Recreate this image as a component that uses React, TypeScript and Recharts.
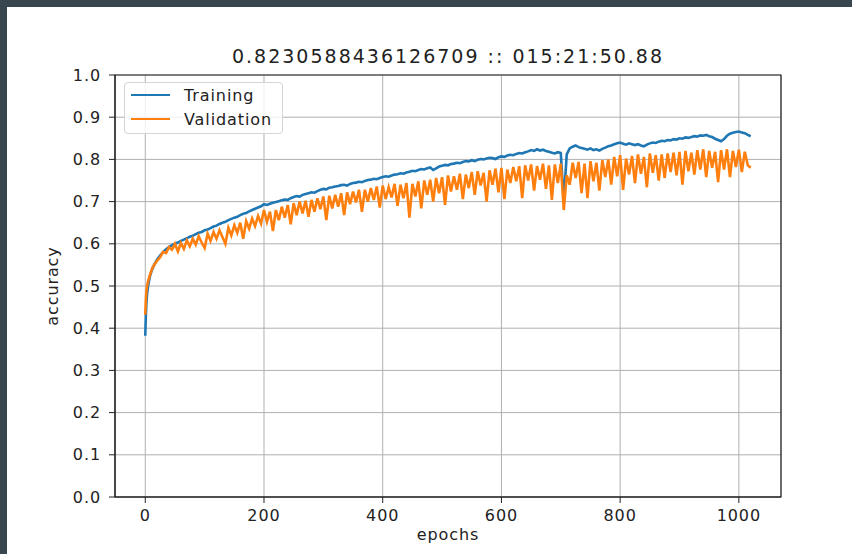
import { LineChart, Line, XAxis, YAxis, CartesianGrid, Legend, ReferenceArea } from 'recharts';

const title = '0.8230588436126709 :: 015:21:50.88';

const epochs = [
    0, 1, 2, 3, 5, 8, 12, 16, 20,
    25, 30, 35, 40, 45, 50, 55, 60, 65, 70,
    75, 80, 85, 90, 95, 100, 105, 110, 115, 120,
    125, 130, 135, 140, 145, 150, 155, 160, 165, 170,
    175, 180, 185, 190, 195, 200, 205, 210, 215, 220,
    225, 230, 235, 240, 245, 250, 255, 260, 265, 270,
    275, 280, 285, 290, 295, 300, 305, 310, 315, 320,
    325, 330, 335, 340, 345, 350, 355, 360, 365, 370,
    375, 380, 385, 390, 395, 400, 405, 410, 415, 420,
    425, 430, 435, 440, 445, 450, 455, 460, 465, 470,
    475, 480, 485, 490, 495, 500, 505, 510, 515, 520,
    525, 530, 535, 540, 545, 550, 555, 560, 565, 570,
    575, 580, 585, 590, 595, 600, 605, 610, 615, 620,
    625, 630, 635, 640, 645, 650, 655, 660, 665, 670,
    675, 680, 685, 690, 695, 700, 705, 710, 715, 720,
    725, 730, 735, 740, 745, 750, 755, 760, 765, 770,
    775, 780, 785, 790, 795, 800, 805, 810, 815, 820,
    825, 830, 835, 840, 845, 850, 855, 860, 865, 870,
    875, 880, 885, 890, 895, 900, 905, 910, 915, 920,
    925, 930, 935, 940, 945, 950, 955, 960, 965, 970,
    975, 980, 985, 990, 995, 1000, 1005, 1010, 1015, 1020,
];

const training = [
    0.382, 0.431, 0.462, 0.481, 0.503, 0.524, 0.541, 0.553, 0.563,
    0.572, 0.580, 0.587, 0.592, 0.597, 0.600, 0.603, 0.607, 0.610, 0.613,
    0.617, 0.619, 0.623, 0.626, 0.628, 0.632, 0.634, 0.637, 0.641, 0.643,
    0.647, 0.650, 0.652, 0.656, 0.659, 0.662, 0.664, 0.668, 0.671, 0.673,
    0.677, 0.680, 0.683, 0.686, 0.689, 0.694, 0.692, 0.695, 0.697, 0.699,
    0.701, 0.703, 0.705, 0.704, 0.708, 0.711, 0.713, 0.712, 0.716, 0.718,
    0.720, 0.722, 0.721, 0.725, 0.728, 0.730, 0.729, 0.733, 0.734, 0.736,
    0.737, 0.739, 0.740, 0.738, 0.742, 0.744, 0.745, 0.747, 0.746, 0.749,
    0.751, 0.752, 0.754, 0.753, 0.756, 0.758, 0.760, 0.759, 0.762, 0.764,
    0.765, 0.767, 0.766, 0.769, 0.771, 0.773, 0.772, 0.775, 0.777, 0.776,
    0.779, 0.781, 0.775, 0.779, 0.783, 0.785, 0.787, 0.786, 0.789, 0.790,
    0.792, 0.791, 0.794, 0.796, 0.795, 0.798, 0.796, 0.799, 0.801, 0.800,
    0.802, 0.804, 0.803, 0.801, 0.805, 0.807, 0.806, 0.809, 0.811, 0.810,
    0.813, 0.815, 0.814, 0.817, 0.819, 0.822, 0.820, 0.824, 0.821, 0.823,
    0.820, 0.818, 0.816, 0.814, 0.817, 0.815, 0.700, 0.812, 0.826, 0.830,
    0.833, 0.829, 0.827, 0.825, 0.823, 0.826, 0.822, 0.824, 0.821, 0.825,
    0.828, 0.831, 0.833, 0.836, 0.838, 0.840, 0.837, 0.835, 0.838, 0.836,
    0.834, 0.836, 0.833, 0.831, 0.835, 0.838, 0.840, 0.839, 0.842, 0.844,
    0.843, 0.846, 0.845, 0.848, 0.847, 0.850, 0.849, 0.852, 0.851, 0.853,
    0.855, 0.854, 0.857, 0.856, 0.858, 0.855, 0.853, 0.849, 0.846, 0.843,
    0.848, 0.856, 0.861, 0.863, 0.865, 0.866, 0.864, 0.862, 0.858, 0.855,
];

const validation = [
    0.432, 0.468, 0.488, 0.500, 0.513, 0.527, 0.543, 0.552, 0.560,
    0.568, 0.581, 0.578, 0.592, 0.586, 0.600, 0.582, 0.602, 0.588, 0.608,
    0.594, 0.612, 0.598, 0.618, 0.603, 0.590, 0.624, 0.607, 0.628, 0.612,
    0.632, 0.616, 0.600, 0.638, 0.620, 0.644, 0.626, 0.650, 0.612, 0.654,
    0.636, 0.660, 0.642, 0.666, 0.648, 0.680, 0.652, 0.676, 0.630, 0.680,
    0.656, 0.688, 0.662, 0.692, 0.646, 0.696, 0.668, 0.700, 0.672, 0.702,
    0.664, 0.704, 0.676, 0.708, 0.682, 0.712, 0.656, 0.714, 0.684, 0.716,
    0.688, 0.720, 0.668, 0.722, 0.694, 0.724, 0.698, 0.728, 0.676, 0.728,
    0.700, 0.732, 0.704, 0.736, 0.686, 0.738, 0.706, 0.734, 0.710, 0.742,
    0.690, 0.740, 0.708, 0.744, 0.662, 0.742, 0.712, 0.748, 0.684, 0.750,
    0.716, 0.752, 0.700, 0.756, 0.720, 0.758, 0.692, 0.762, 0.724, 0.760,
    0.728, 0.766, 0.706, 0.764, 0.732, 0.770, 0.716, 0.772, 0.738, 0.768,
    0.700, 0.774, 0.740, 0.778, 0.722, 0.780, 0.706, 0.776, 0.744, 0.782,
    0.748, 0.784, 0.708, 0.786, 0.750, 0.788, 0.726, 0.784, 0.752, 0.790,
    0.730, 0.786, 0.704, 0.788, 0.744, 0.790, 0.680, 0.762, 0.740, 0.792,
    0.756, 0.794, 0.720, 0.790, 0.708, 0.796, 0.748, 0.792, 0.726, 0.798,
    0.758, 0.800, 0.740, 0.806, 0.760, 0.810, 0.728, 0.802, 0.764, 0.808,
    0.744, 0.812, 0.766, 0.806, 0.734, 0.814, 0.768, 0.810, 0.750, 0.812,
    0.756, 0.814, 0.770, 0.816, 0.762, 0.818, 0.740, 0.820, 0.772, 0.816,
    0.764, 0.822, 0.776, 0.824, 0.758, 0.820, 0.780, 0.818, 0.746, 0.822,
    0.776, 0.824, 0.758, 0.820, 0.782, 0.823, 0.770, 0.818, 0.786, 0.780,
];

const xTicks = [0, 200, 400, 600, 800, 1000];
const yTicks = [0, 0.1, 0.2, 0.3, 0.4, 0.5, 0.6, 0.7, 0.8, 0.9, 1.0];

const data = epochs.map((epoch, i) => ({
    epoch,
    Training: training[i],
    Validation: validation[i],
}));

const textColor = '#222';

// matplotlib-style legend box
const LegendBox = (props: any) => {
    const items = props.payload || [];
    return (
        <div style={{
            width: 157, height: 50, background: 'rgba(255,255,255,0.8)',
            border: '1px solid #d5d5d5', borderRadius: 4, position: 'relative',
        }}>
            {items.map((item: any, i: number) => (
                <div key={item.value} style={{ position: 'absolute', left: 0, top: 2 + i * 24, height: 20, display: 'flex', alignItems: 'center' }}>
                    <div style={{ marginLeft: 6, width: 39, height: 2, background: item.color }} />
                    <span style={{ marginLeft: 14, fontSize: 16, color: textColor, letterSpacing: '0.9px' }}>{item.value}</span>
                </div>
            ))}
        </div>
    );
};

const App = () => {
    return (
        <div style={{
            position: 'absolute', left: 0, top: 0, width: 852, height: 554, overflow: 'hidden',
            background: '#37464f', fontFamily: '"DejaVu Sans", sans-serif', letterSpacing: '0.9px',
        }}>
            <div style={{ position: 'absolute', left: 7, top: 7, right: 0, bottom: 0, background: '#fff' }} />
            <div style={{
                position: 'absolute', left: 115, width: 666, top: 47, textAlign: 'center',
                fontSize: 19, lineHeight: '19px', color: textColor, letterSpacing: '2px',
            }}>{title}</div>
            <div style={{ position: 'absolute', left: 0, top: 0 }}>
                <LineChart width={852} height={554} data={data} margin={{ top: 75, right: 71, left: 55, bottom: 14 }}>
                    <CartesianGrid stroke="#b0b0b0" strokeWidth={1} />
                    <XAxis
                        dataKey="epoch" type="number" domain={[-51, 1071]} allowDataOverflow
                        ticks={xTicks} height={43} tickSize={6} tickMargin={7}
                        tick={{ fill: textColor, fontSize: 16 }} tickLine={{ stroke: textColor }}
                        axisLine={{ stroke: textColor }}
                        label={{
                            content: (p: any) => {
                                const vb = p.viewBox;
                                return (
                                    <text x={vb.x + vb.width / 2} y={vb.y + 43} textAnchor="middle" fontSize={16} fill={textColor}>
                                        epochs
                                    </text>
                                );
                            },
                        }}
                    />
                    <YAxis
                        type="number" domain={[0, 1]} ticks={yTicks} width={60} tickSize={6} tickMargin={8}
                        tickFormatter={(v: number) => v.toFixed(1)}
                        tick={{ fill: textColor, fontSize: 16 }} tickLine={{ stroke: textColor }}
                        axisLine={{ stroke: textColor }}
                        label={{
                            content: (p: any) => {
                                const vb = p.viewBox;
                                const cx = vb.x + 3;
                                const cy = vb.y + vb.height / 2;
                                return (
                                    <text x={cx} y={cy} transform={`rotate(-90 ${cx} ${cy})`} textAnchor="middle" fontSize={16} fill={textColor}>
                                        accuracy
                                    </text>
                                );
                            },
                        }}
                    />
                    <Line type="linear" dataKey="Training" stroke="#1f77b4" strokeWidth={2.6} dot={false} isAnimationActive={false} />
                    <Line type="linear" dataKey="Validation" stroke="#ff7f0e" strokeWidth={2.6} dot={false} isAnimationActive={false} />
                    <ReferenceArea x1={-51} x2={1071} y1={0} y2={1} fill="none" stroke={textColor} strokeWidth={1.2} ifOverflow="visible" />
                    <Legend
                        content={LegendBox} layout="horizontal" verticalAlign="middle" align="center"
                        wrapperStyle={{ position: 'absolute', left: 124, top: 82, width: 'auto' }}
                    />
                </LineChart>
            </div>
        </div>
    );
};

export default App;
